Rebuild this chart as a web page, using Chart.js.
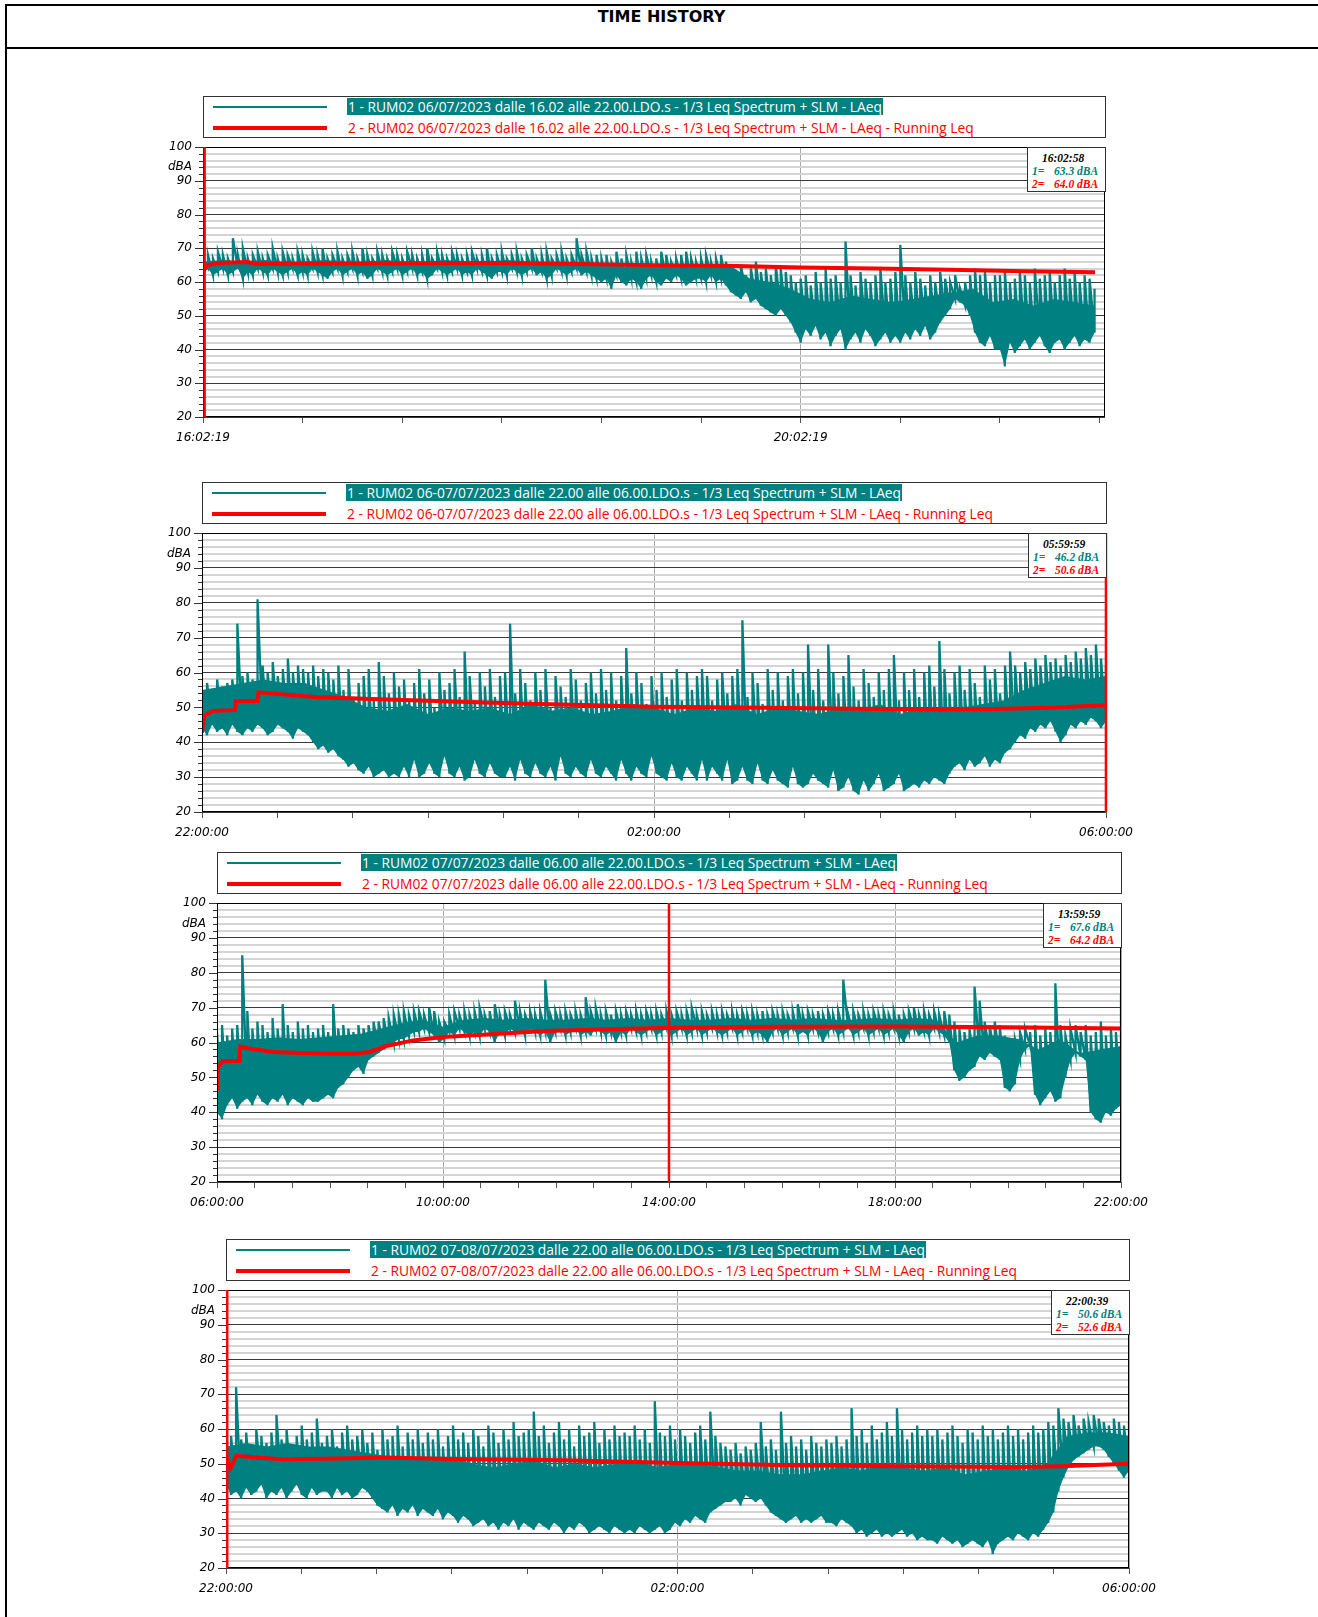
<!DOCTYPE html>
<html>
<head>
<meta charset="utf-8">
<script src="https://cdn.jsdelivr.net/npm/chart.js@4.4.0/dist/chart.umd.min.js"></script>
<style>
  body { margin:0; width:1318px; height:1617px; position:relative; background:#fff; overflow:hidden; }
  .line { position:absolute; background:#000; }
  #title { position:absolute; left:5px; right:0; top:7px; text-align:center; font:bold 16px "DejaVu Sans", sans-serif; color:#000; }
  .legend { position:absolute; box-sizing:border-box; border:1px solid #333; background:#fff; font:13.8px "Open Sans", sans-serif; white-space:nowrap; }
  .legend .sw { position:absolute; }
  .legend .txt { position:absolute; line-height:17px; padding:0 1px; }
  .info { position:absolute; box-sizing:border-box; border:1px solid #333; background:#fff; font:bold italic 11.5px "Liberation Serif", serif; white-space:nowrap; z-index:2; }
  .info div { position:absolute; line-height:12px; }
  canvas { position:absolute; }
</style>
</head>
<body>
<div class="line" style="left:5px;top:4px;right:0;height:2px"></div>
<div class="line" style="left:5px;top:4px;width:2px;bottom:0"></div>
<div class="line" style="left:5px;top:47px;right:0;height:2px"></div>
<div id="title">TIME HISTORY</div>
<script>
// ---- data ----
// LAeq: per-interval high / low (dBA), 180 even intervals across each recording
// CORE: top of the dense part of the trace, 45 even points across each recording
// RUN: Running Leq, times in hours from axis start and dBA
const P1_HI = [
  66,68,67,69,68,67,73,68,70,67,68,69,67,68,70,67,69,68,67,69,
  68,67,69,68,70,67,68,69,67,68,69,67,70,68,67,69,68,67,69,68,
  67,69,68,67,68,70,67,69,68,67,69,68,67,68,69,67,68,70,67,68,
  69,67,68,69,67,68,70,67,68,69,67,68,69,67,68,73,68,69,67,68,
  67,68,66,69,67,68,66,69,67,68,66,67,69,68,66,67,68,69,67,66,
  67,68,66,67,68,66,64,63,65,62,64,66,63,64,62,65,64,63,62,60,
  61,62,59,63,60,64,61,62,60,72,62,59,63,61,60,62,64,60,61,63,
  71,62,60,63,61,59,62,60,63,61,60,62,58,60,62,64,62,63,60,62,
  62,63,60,61,63,62,60,64,61,62,63,60,62,64,61,63,60,62,61,58
];
const P1_LO = [
  63,64,62,63,64,62,63,64,61,63,62,64,63,62,64,63,62,63,64,62,
  63,62,64,63,62,61,63,64,62,63,64,62,63,61,62,64,63,62,63,64,
  62,63,64,62,63,61,62,64,63,62,63,64,62,63,62,64,63,62,61,63,
  63,62,64,63,62,63,64,62,63,61,62,64,63,62,63,64,62,63,62,61,
  60,61,58,62,60,59,61,60,58,61,62,60,59,61,60,62,61,59,60,61,
  61,60,62,60,61,59,57,56,55,57,54,55,53,52,51,50,52,50,48,45,
  42,46,44,47,43,45,41,44,46,40,43,45,42,46,44,41,43,45,42,44,
  42,45,43,46,44,47,43,45,48,50,52,55,54,53,50,45,42,41,44,40,
  40,35,42,39,41,43,40,42,44,41,39,42,43,40,42,44,41,43,42,45
];
const P1_CORE = [
  66,66.5,66,66.5,66,66,66.5,66,66,66.5,66,66,66.5,66,66,66.5,66,66,65.5,65,65,64.5,65,64.5,65,64.5,65,
  61,60,58, 55,54,56,55,54,55,56,57, 58, 54,55,53,55,54,53
];
const P1_RUN_T = [0, 0.01, 0.03, 0.1, 0.3, 0.35, 1, 2, 2.5, 3, 3.5, 4, 4.5, 5, 5.5, 5.97];
const P1_RUN_V = [63.3, 63.8, 65.0, 65.6, 65.9, 65.4, 65.5, 65.6, 65.3, 65.0, 64.8, 64.3, 64.0, 63.6, 63.2, 62.9];

const P2_HI = [
  54,57,55,58,56,57,58,74,59,60,58,81,62,60,63,59,61,64,60,62,
  61,60,62,59,61,60,58,62,55,61,53,57,59,61,52,63,59,54,60,56,
  58,52,57,61,54,58,50,60,55,57,61,53,66,59,52,60,56,61,53,59,
  60,74,54,61,57,52,60,55,61,50,59,56,53,61,58,52,57,60,54,61,
  55,60,52,59,67,54,60,57,51,59,55,60,53,58,61,52,60,55,59,61,
  59,52,58,60,54,59,61,75,53,60,57,51,61,55,60,52,59,61,54,60,
  68,55,61,52,68,60,54,59,65,56,52,61,57,53,60,55,61,65,52,60,
  55,61,53,60,62,56,69,61,54,60,62,55,61,57,53,62,58,61,54,62,
  66,62,60,63,61,64,62,65,63,64,62,65,63,66,64,67,65,68,64,62
];
const P2_LO = [
  44,42,45,43,44,42,45,43,42,44,43,45,44,42,43,45,44,43,41,44,
  43,42,40,38,39,37,38,36,35,33,34,32,31,33,30,31,32,30,31,30,
  33,30,35,30,31,34,31,30,36,31,30,33,29,30,35,31,30,34,31,30,
  30,33,29,35,31,30,34,31,30,33,29,36,31,30,33,31,30,35,31,30,
  33,31,29,35,31,29,33,31,30,36,31,30,29,34,30,29,33,31,29,35,
  29,33,31,29,35,28,29,33,29,28,34,29,28,32,29,28,27,33,28,27,
  28,31,29,28,27,32,26,27,30,26,25,29,26,28,31,26,27,28,31,26,
  27,28,27,29,28,30,29,28,31,33,34,32,35,33,34,36,33,35,34,37,
  38,40,42,41,44,43,45,44,46,43,40,42,45,44,46,45,47,46,44,46
];
const P2_CORE = [
  55,56, 57,58,57,57, 55,53,
  50,49,51,48,50,49,50,48,51,49,50,48,49,51,50,48,50,49,51,48,50,49,48,50,49,51,48,50,49,50,51,52,
  55,57,59,58,59
];
const P2_RUN_T = [0, 0.02, 0.05, 0.1, 0.29, 0.3, 0.49, 0.5, 1, 1.5, 2, 2.5, 3, 4, 5, 6, 6.5, 7, 7.5, 8];
const P2_RUN_V = [42.7, 47.5, 48.2, 49.0, 49.2, 51.8, 51.8, 54.3, 53.0, 52.4, 51.9, 51.4, 51.0, 50.2, 49.9, 49.5, 49.4, 49.5, 49.9, 50.6];

const P3_HI = [
  63,65,62,64,65,85,69,64,66,65,63,67,64,71,65,63,66,64,65,63,
  64,65,63,71,64,65,64,63,65,64,65,66,66,67,67,68,68,69,68,69,
  69,68,70,69,66,66,68,69,68,69,68,69,70,68,69,71,68,69,68,72,
  69,68,69,68,69,78,68,69,68,69,68,69,68,73,69,70,68,69,68,69,
  68,69,68,69,68,69,68,69,68,69,68,69,68,69,70,68,69,68,69,68,
  69,68,69,68,69,68,69,68,69,68,69,68,69,68,69,71,68,69,68,69,
  68,69,68,69,78,68,69,68,69,68,69,68,69,68,69,68,68,69,70,68,
  69,68,69,68,69,68,66,64,63,64,76,72,66,65,66,65,62,60,61,63,
  64,63,65,62,64,63,77,65,62,64,65,63,65,62,63,66,62,64,63,74
];
const P3_LO = [
  40,38,42,44,41,43,44,42,45,43,42,44,43,45,42,44,43,42,44,43,
  43,44,45,44,47,48,50,52,53,51,55,56,57,58,59,60,61,61,62,63,
  63,64,63,62,60,61,63,62,64,63,62,63,62,64,63,60,63,62,64,63,
  63,62,64,63,62,63,60,63,64,62,63,64,62,63,62,64,63,62,63,60,
  63,62,64,63,62,63,64,62,63,64,62,63,64,62,63,64,62,63,64,63,
  62,63,64,62,63,64,62,63,62,60,63,64,62,63,64,62,63,62,64,63,
  60,63,64,62,63,64,62,63,64,62,63,64,62,63,64,62,60,63,64,62,
  63,62,64,63,62,60,52,49,50,52,53,56,55,57,56,55,47,46,48,55,
  58,59,45,42,44,46,43,44,50,55,57,56,55,40,38,37,40,39,41,42
];
const P3_CORE = [
  60,61,61,61.5,61,61.5, 62,62.5,64,65.5,66.5,64.5,
  66.5,67,66.5,67,66.5,66.5,67,66.5,67,66.5,67,66.5,66.5,67,66.5,67,66.5,67,66.5,66.5,67,66.5,67,66.5,
  60,62,62,61,58,61,57,58,59
];
const P3_RUN_T = [0, 0.02, 0.1, 0.4, 0.41, 0.6, 1, 1.5, 2, 2.4, 2.7, 3, 3.47, 4, 5, 5.8, 7, 8, 10, 12, 14, 16];
const P3_RUN_V = [46.3, 53.0, 54.7, 54.7, 58.8, 58.2, 57.3, 57.0, 56.8, 56.8, 57.3, 59.0, 60.6, 61.6, 62.5, 63.3, 63.8, 64.2, 64.5, 64.6, 64.4, 64.0];

const P4_HI = [
  56,58,72,57,59,55,60,58,56,59,64,57,60,55,58,61,57,59,63,56,
  58,60,55,59,61,57,58,60,56,59,54,60,57,58,61,55,59,57,60,56,
  59,57,60,55,58,61,57,59,56,60,58,55,61,59,56,60,57,62,58,59,
  60,65,58,61,56,59,62,57,60,55,61,58,59,62,56,60,57,61,58,59,
  58,61,57,60,56,68,59,58,61,57,60,58,56,59,61,57,65,58,56,55,
  54,56,53,55,54,56,62,55,57,54,65,56,58,55,57,54,58,56,55,57,
  56,58,55,57,66,58,60,56,61,57,59,62,58,66,60,57,59,61,58,60,
  58,60,57,59,61,58,56,60,59,57,61,58,60,57,59,61,58,60,57,59,
  61,59,60,62,61,66,63,62,64,61,63,62,64,63,62,61,63,62,61,62
];
const P4_LO = [
  44,41,42,40,43,41,42,44,40,42,41,43,40,42,44,41,40,43,41,42,
  42,40,43,41,42,40,41,43,42,40,38,37,36,38,35,37,36,38,35,37,
  36,35,37,34,36,35,33,35,34,32,33,34,32,33,31,33,32,34,31,33,
  32,31,33,32,31,33,32,30,32,31,33,32,30,31,32,31,30,32,31,30,
  31,30,32,31,30,31,32,30,31,33,32,34,33,35,34,33,36,37,38,39,
  39,40,38,41,40,39,40,38,36,35,34,33,34,35,33,34,33,34,35,33,
  33,32,34,33,32,30,31,29,30,31,29,30,29,30,31,29,30,28,29,28,
  28,27,29,28,27,28,26,27,28,27,26,28,24,27,28,29,28,30,29,28,
  30,29,31,33,36,42,46,49,51,52,53,54,55,55,54,52,50,48,46,48
];
const P4_CORE = [
  55,56,55,56,55,55,54, 53,52,52,51,52,
  50,49,50,51,49,50,49,50,51,49,50, 50,49,48, 48,47,
  47,48,49,48,50,49, 48,49,47,48,49,48,
  50,58,59,59,58
];
const P4_RUN_T = [0, 0.02, 0.04, 0.06, 0.09, 0.3, 0.5, 1, 1.4, 2, 3, 4, 5, 6, 7, 7.4, 8];
const P4_RUN_V = [52.6, 50.5, 48.8, 50.0, 52.3, 51.7, 51.3, 51.5, 51.8, 51.4, 51.0, 50.2, 49.6, 49.3, 49.1, 49.3, 50.0];

// x tick labels, one every 240 minutes from the start of each axis
const P1_XLABELS = ['16:02:19', '20:02:19'];
const P2_XLABELS = ['22:00:00', '02:00:00', '06:00:00'];
const P3_XLABELS = ['06:00:00', '10:00:00', '14:00:00', '18:00:00', '22:00:00'];
const P4_XLABELS = ['22:00:00', '02:00:00', '06:00:00'];

const P1_LEGEND = ['1 - RUM02 06/07/2023 dalle 16.02 alle 22.00.LDO.s - 1/3 Leq Spectrum + SLM - LAeq',
                   '2 - RUM02 06/07/2023 dalle 16.02 alle 22.00.LDO.s - 1/3 Leq Spectrum + SLM - LAeq - Running Leq'];
const P2_LEGEND = ['1 - RUM02 06-07/07/2023 dalle 22.00 alle 06.00.LDO.s - 1/3 Leq Spectrum + SLM - LAeq',
                   '2 - RUM02 06-07/07/2023 dalle 22.00 alle 06.00.LDO.s - 1/3 Leq Spectrum + SLM - LAeq - Running Leq'];
const P3_LEGEND = ['1 - RUM02 07/07/2023 dalle 06.00 alle 22.00.LDO.s - 1/3 Leq Spectrum + SLM - LAeq',
                   '2 - RUM02 07/07/2023 dalle 06.00 alle 22.00.LDO.s - 1/3 Leq Spectrum + SLM - LAeq - Running Leq'];
const P4_LEGEND = ['1 - RUM02 07-08/07/2023 dalle 22.00 alle 06.00.LDO.s - 1/3 Leq Spectrum + SLM - LAeq',
                   '2 - RUM02 07-08/07/2023 dalle 22.00 alle 06.00.LDO.s - 1/3 Leq Spectrum + SLM - LAeq - Running Leq'];

// cursor readout: time, value 1, value 2; cursor position in minutes from axis start
const P1_INFO = ['16:02:58', '63.3 dBA', '64.0 dBA'];
const P2_INFO = ['05:59:59', '46.2 dBA', '50.6 dBA'];
const P3_INFO = ['13:59:59', '67.6 dBA', '64.2 dBA'];
const P4_INFO = ['22:00:39', '50.6 dBA', '52.6 dBA'];
const CURSORS = [0.65, 479.98, 479.98, 0.65];

// ---- layout ----
const TEAL = '#008080', RED = '#ff0000';
const PANELS = [
  { box: [203, 147, 902, 270], span: 362.2, dur: 358, hi: P1_HI, lo: P1_LO, core: P1_CORE, rt: P1_RUN_T, rv: P1_RUN_V, xl: P1_XLABELS, leg: P1_LEGEND, info: P1_INFO },
  { box: [202, 533, 904, 279], span: 480, dur: 480, hi: P2_HI, lo: P2_LO, core: P2_CORE, rt: P2_RUN_T, rv: P2_RUN_V, xl: P2_XLABELS, leg: P2_LEGEND, info: P2_INFO },
  { box: [217, 903, 904, 279], span: 960, dur: 960, hi: P3_HI, lo: P3_LO, core: P3_CORE, rt: P3_RUN_T, rv: P3_RUN_V, xl: P3_XLABELS, leg: P3_LEGEND, info: P3_INFO },
  { box: [226, 1290, 903, 278], span: 480, dur: 480, hi: P4_HI, lo: P4_LO, core: P4_CORE, rt: P4_RUN_T, rv: P4_RUN_V, xl: P4_XLABELS, leg: P4_LEGEND, info: P4_INFO },
];

const PAD_L = 60, PAD_T = 12, PAD_R = 40, PAD_B = 40;

// frame, y tick marks and cursor line
const decor = {
  id: 'decor',
  afterDatasetsDraw(chart, args, opts) {
    const { ctx, chartArea: a, scales: { x, y } } = chart;
    ctx.save();
    ctx.strokeStyle = '#000';
    ctx.lineWidth = 1;
    ctx.strokeRect(a.left + 0.5, a.top + 0.5, a.right - a.left - 1, a.bottom - a.top - 1);
    ctx.strokeStyle = '#333';
    for (let v = 20; v <= 100; v += 2) {
      const py = Math.round(y.getPixelForValue(v)) + 0.5;
      ctx.beginPath();
      ctx.moveTo(a.left - (v % 10 ? 4 : 8), py);
      ctx.lineTo(a.left, py);
      ctx.stroke();
    }
    const cx = x.getPixelForValue(opts.cursor);
    ctx.strokeStyle = RED;
    ctx.lineWidth = 2.5;
    ctx.beginPath();
    ctx.moveTo(cx, a.top);
    ctx.lineTo(cx, a.bottom);
    ctx.stroke();
    ctx.restore();
  }
};

const axisFont = { family: '"DejaVu Sans", sans-serif', size: 12, style: 'italic' };
const NONE = 'rgba(0,0,0,0)';

PANELS.forEach((p, k) => {
  const [L, T, W, H] = p.box;

  // legend
  const lg = document.createElement('div');
  lg.className = 'legend';
  Object.assign(lg.style, { left: L + 'px', top: (T - 51) + 'px', width: (W + 1) + 'px', height: '42px' });
  lg.innerHTML =
    `<div class="sw" style="left:9px;top:9px;width:114px;height:2px;background:${TEAL}"></div>` +
    `<div class="sw" style="left:9px;top:29px;width:114px;height:4px;background:${RED}"></div>` +
    `<span class="txt" style="left:143px;top:1px;background:${TEAL};color:#fff">${p.leg[0]}</span>` +
    `<span class="txt" style="left:143px;top:22px;color:${RED}">${p.leg[1]}</span>`;
  document.body.appendChild(lg);

  // cursor readout
  const ib = document.createElement('div');
  ib.className = 'info';
  Object.assign(ib.style, { left: (L + W - 78) + 'px', top: T + 'px', width: '79px', height: '45px' });
  ib.innerHTML =
    `<div style="left:14px;top:4px;color:#000">${p.info[0]}</div>` +
    `<div style="left:4px;top:17px;color:${TEAL}">1=</div><div style="left:26px;top:17px;color:${TEAL}">${p.info[1]}</div>` +
    `<div style="left:4px;top:30px;color:${RED}">2=</div><div style="left:26px;top:30px;color:${RED}">${p.info[2]}</div>`;
  document.body.appendChild(ib);

  // chart
  const cv = document.createElement('canvas');
  cv.width = PAD_L + W + PAD_R;
  cv.height = PAD_T + H + PAD_B;
  Object.assign(cv.style, { left: (L - PAD_L) + 'px', top: (T - PAD_T) + 'px', width: cv.width + 'px', height: cv.height + 'px' });
  document.body.appendChild(cv);

  // LAeq: one low-to-high stroke per interval, over a solid band for the dense part
  const step = p.dur / (p.hi.length - 1);
  const zig = [];
  p.hi.forEach((h, i) => {
    zig.push({ x: i * step, y: p.lo[i] });
    zig.push({ x: i * step, y: h });
  });
  const loPts = p.lo.map((v, i) => ({ x: i * step, y: v }));
  const cstep = p.dur / (p.core.length - 1);
  const corePts = p.core.map((v, i) => ({ x: i * cstep, y: v }));
  const runPts = p.rt.map((t, i) => ({ x: t * 60, y: p.rv[i] }));

  new Chart(cv, {
    type: 'line',
    data: {
      datasets: [
        { data: runPts, borderColor: RED, borderWidth: 4, pointRadius: 0, fill: false, order: 0 },
        { data: zig, borderColor: TEAL, borderWidth: 2.3, pointRadius: 0, fill: false, order: 1 },
        { data: corePts, borderColor: NONE, backgroundColor: TEAL, borderWidth: 1, pointRadius: 0, fill: '+1', order: 2 },
        { data: loPts, borderColor: NONE, borderWidth: 1, pointRadius: 0, fill: false, order: 3 },
      ]
    },
    options: {
      responsive: false,
      animation: false,
      events: [],
      layout: { padding: { top: PAD_T, right: PAD_R, left: 0, bottom: 0 } },
      plugins: { legend: { display: false }, tooltip: { enabled: false }, decor: { cursor: CURSORS[k] } },
      scales: {
        x: {
          type: 'linear', min: 0, max: p.span,
          border: { display: false },
          grid: {
            color: c => (c.tick && c.tick.value % 240 === 0) ? '#a8a8a8' : NONE,
            tickColor: '#555', tickLength: 6, lineWidth: 1
          },
          ticks: {
            stepSize: 40, autoSkip: false, includeBounds: false, maxRotation: 0, padding: 8,
            color: '#000', font: axisFont,
            callback: v => (v % 240 === 0 && p.xl[v / 240]) ? p.xl[v / 240] : ''
          },
          afterFit: s => { s.height = PAD_B; s.paddingLeft = 0; s.paddingRight = 0; }
        },
        y: {
          min: 20, max: 100,
          border: { display: false },
          grid: {
            drawTicks: false,
            color: c => c.tick.value % 10 === 0 ? '#3a3a3a' : '#d4d4d4',
            lineWidth: c => c.tick.value % 10 === 0 ? 1 : 2
          },
          ticks: {
            stepSize: 2, autoSkip: false, padding: 11, color: '#000', font: axisFont,
            callback: v => v % 10 === 0 ? String(v) : (v === 94 ? 'dBA' : '')
          },
          afterFit: s => { s.width = PAD_L; s.paddingTop = 0; s.paddingBottom = 0; }
        }
      }
    },
    plugins: [decor]
  });
});
</script>
</body>
</html>
